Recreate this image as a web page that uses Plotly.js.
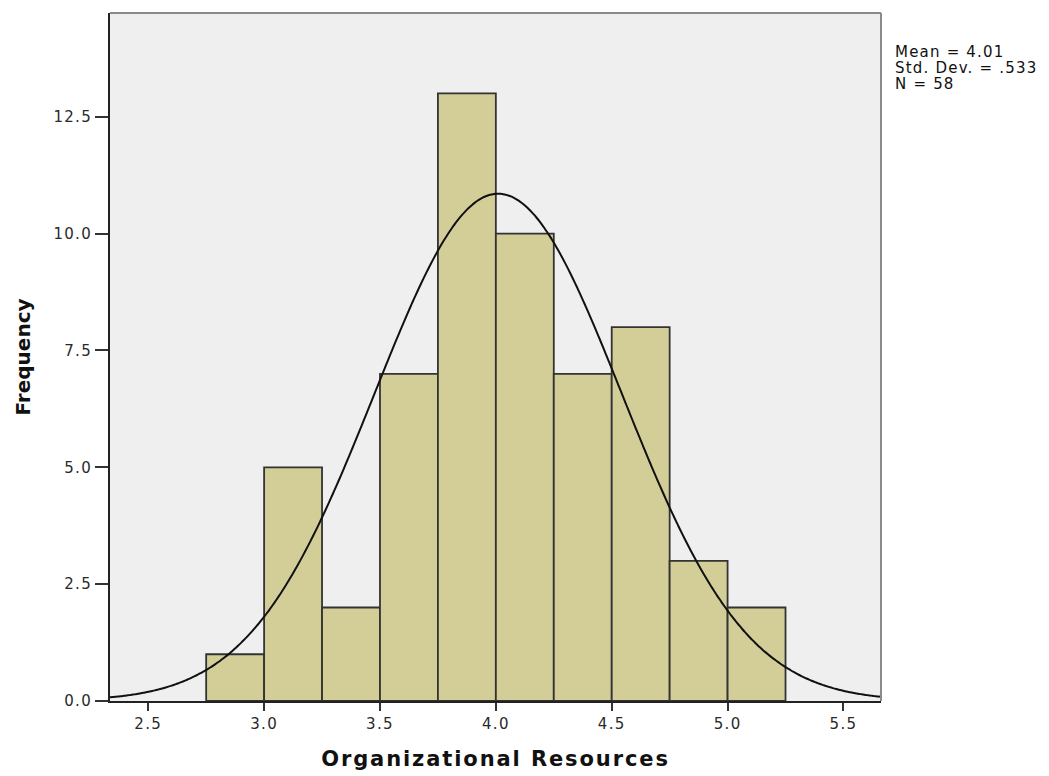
<!DOCTYPE html>
<html>
<head>
<meta charset="utf-8">
<script src="https://cdn.plot.ly/plotly-3.0.1.min.js"></script>
<style>
  html, body { margin: 0; padding: 0; background: #ffffff; }
  #chart { width: 1049px; height: 776px; }
  .xtick text, .ytick text { letter-spacing: 1.3px; }
  .g-xtitle text { letter-spacing: 1.9px; }
  .annotation-text { letter-spacing: 1.2px; }
</style>
</head>
<body>
<div id="chart"></div>
<script>
// Histogram bins (lower edges) and their frequencies
const binStarts = [2.75, 3.00, 3.25, 3.50, 3.75, 4.00, 4.25, 4.50, 4.75, 5.00];
const binCounts = [1, 5, 2, 7, 13, 10, 7, 8, 3, 2];
const binWidth = 0.25;

// Summary statistics shown beside the plot
const statMean = 4.01;
const statSD = 0.533;
const statN = 58;
const statLabels = ["Mean = 4.01", "Std. Dev. = .533", "N = 58"];

const xTicks = [2.5, 3.0, 3.5, 4.0, 4.5, 5.0, 5.5];
const yTicks = [0, 2.5, 5, 7.5, 10, 12.5];
const xRange = [2.335, 5.662];
const yRange = [0, 14.72];

const binCenters = binStarts.map(s => s + binWidth / 2);

// Normal curve scaled to the histogram's frequency units
const curveX = [];
const curveY = [];
const steps = 300;
for (let i = 0; i <= steps; i++) {
  const x = xRange[0] + (xRange[1] - xRange[0]) * i / steps;
  const z = (x - statMean) / statSD;
  curveX.push(x);
  curveY.push(statN * binWidth * Math.exp(-0.5 * z * z) / (statSD * Math.sqrt(2 * Math.PI)));
}

const tickFont = { family: "DejaVu Sans", size: 15, color: "#2a2a2a" };
const titleFont = { family: "DejaVu Sans", size: 20, color: "#111111", weight: "bold" };

const traces = [
  {
    type: "bar",
    x: binCenters,
    y: binCounts,
    width: binCounts.map(() => binWidth),
    marker: { color: "#d3ce98", line: { color: "#333333", width: 1.8 } },
    hoverinfo: "x+y"
  },
  {
    type: "scatter",
    mode: "lines",
    x: curveX,
    y: curveY,
    line: { color: "#111111", width: 2, shape: "spline" },
    hoverinfo: "skip"
  }
];

const annotations = statLabels.map((t, i) => ({
  text: t,
  xref: "paper", yref: "paper",
  x: 1.016, y: 0.943 - i * 0.0233,
  xanchor: "left", yanchor: "middle",
  showarrow: false,
  align: "left",
  font: { family: "DejaVu Sans", size: 15, color: "#111111" }
}));

const layout = {
  width: 1049,
  height: 776,
  margin: { l: 110, r: 168, t: 13, b: 75, pad: 0 },
  paper_bgcolor: "#ffffff",
  plot_bgcolor: "#efefef",
  showlegend: false,
  bargap: 0,
  xaxis: {
    range: xRange,
    tickvals: xTicks,
    tickformat: ".1f",
    ticks: "outside",
    ticklen: 8,
    tickwidth: 2,
    tickcolor: "#333333",
    showline: true,
    linecolor: "#222222",
    linewidth: 2,
    showgrid: false,
    zeroline: false,
    tickfont: tickFont,
    title: { text: "Organizational Resources",
             font: { family: "DejaVu Sans", size: 21, color: "#111111", weight: "bold" },
             standoff: 19 }
  },
  yaxis: {
    range: yRange,
    tickvals: yTicks,
    tickformat: ".1f",
    ticks: "outside",
    ticklen: 13,
    tickwidth: 2,
    tickcolor: "#333333",
    showline: true,
    linecolor: "#222222",
    linewidth: 2,
    showgrid: false,
    zeroline: false,
    tickfont: tickFont,
    title: { text: "Frequency", font: titleFont, standoff: 17 }
  },
  shapes: [
    { type: "line", xref: "paper", yref: "paper", x0: 0, x1: 1, y0: 1, y1: 1,
      line: { color: "#8a8a8a", width: 2 } },
    { type: "line", xref: "paper", yref: "paper", x0: 1, x1: 1, y0: 0, y1: 1,
      line: { color: "#8a8a8a", width: 2 } }
  ],
  annotations: annotations
};

Plotly.newPlot("chart", traces, layout, { displayModeBar: false, staticPlot: true });
</script>
</body>
</html>
